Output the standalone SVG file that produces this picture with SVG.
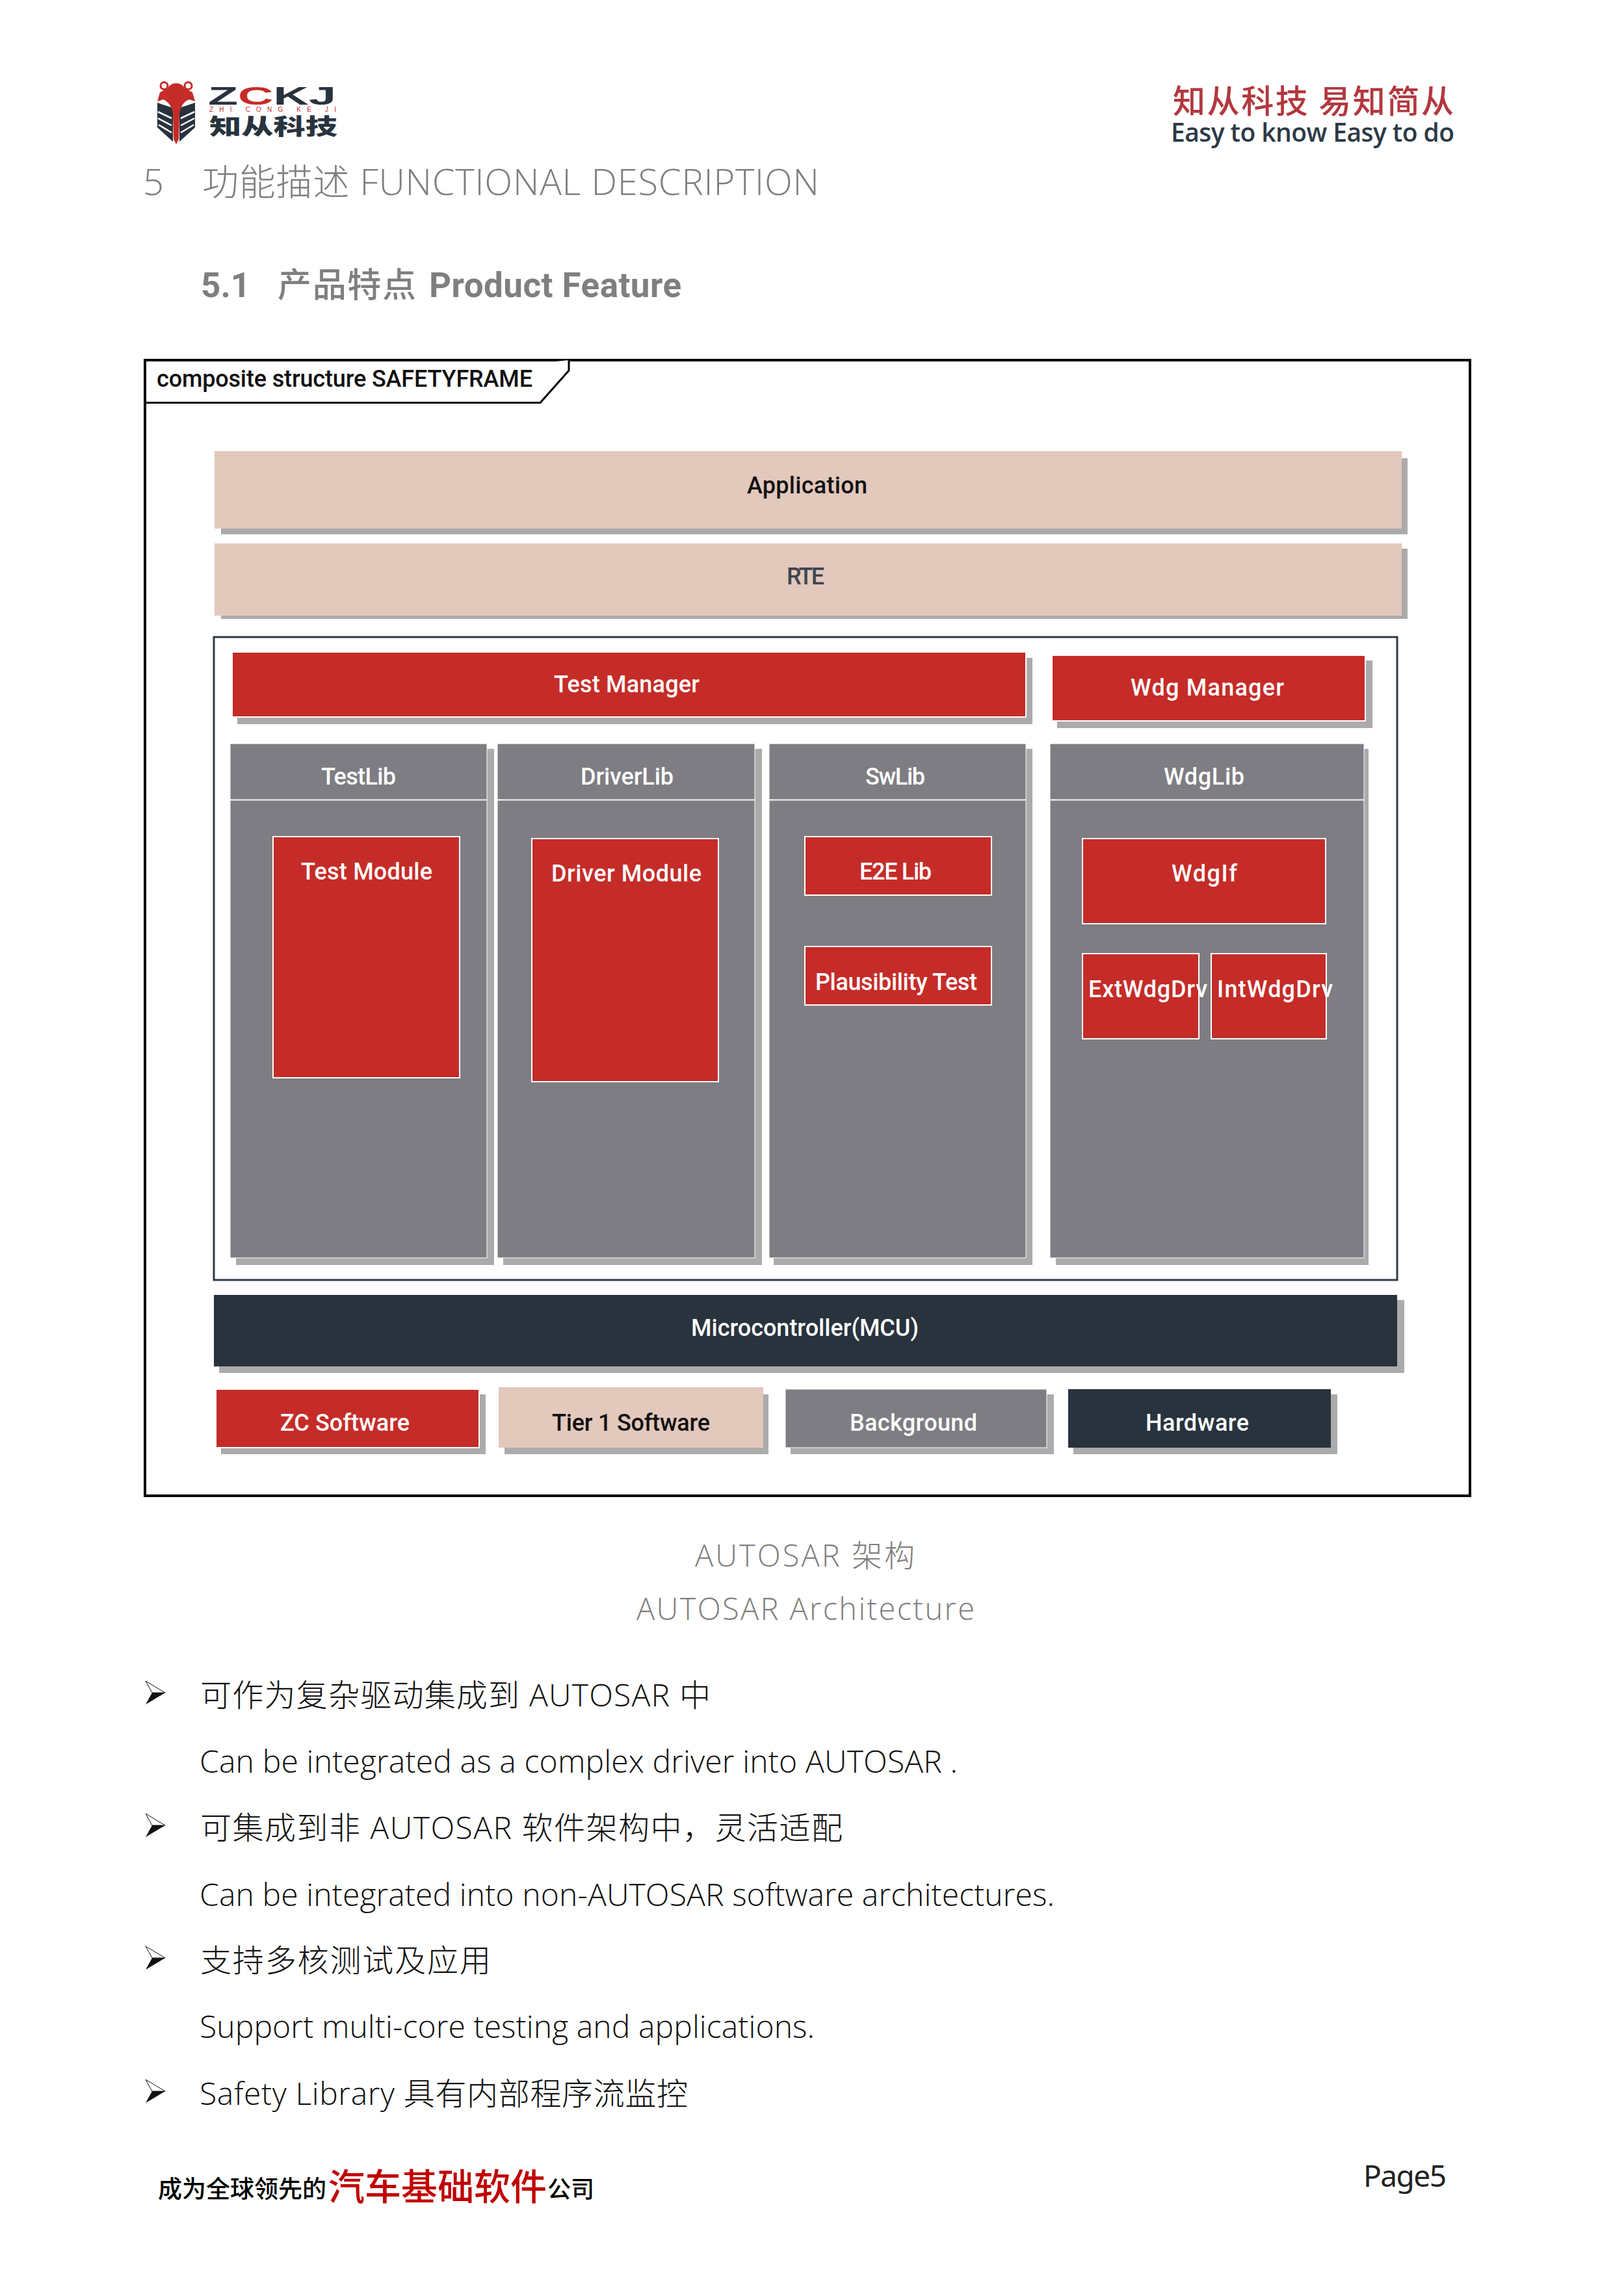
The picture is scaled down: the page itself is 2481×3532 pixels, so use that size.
<svg xmlns="http://www.w3.org/2000/svg" width="2481" height="3532" viewBox="0 0 2481 3532">
<style>
text{font-family:"Roboto","Noto Sans CJK SC",sans-serif;white-space:pre}
.sh{fill:#ababab}
.red{fill:#c52c28;stroke:#fff;stroke-width:2}
.pe{fill:#e3c8bc}
.gr{fill:#7e7d83;stroke:#fff;stroke-width:1}
.nv{fill:#28333e}
.lb{font-size:36px;font-weight:500;fill:#fff}
.lk{font-size:36px;font-weight:500;fill:#111}
.body{font-family:"Open Sans","Noto Sans CJK SC",sans-serif;font-weight:300;font-size:48px;fill:#111}
.cap{font-family:"Open Sans","Noto Sans CJK SC",sans-serif;font-weight:300;font-size:47px;fill:#7f7f7f}
.h1{font-family:"Open Sans","Noto Sans CJK SC",sans-serif;font-weight:300;font-size:56px;fill:#7f7f7f}
.h2{font-family:"Roboto","Noto Sans CJK SC",sans-serif;font-weight:700;font-size:53px;fill:#7f7f7f}
.wing{fill:#28333e}
.stripe{fill:none;stroke:#fff;stroke-width:2.5}
</style>
<defs>
<g id="bullet">
<polygon points="0,0 30,18 10,18" fill="#fff" stroke="#111" stroke-width="1"/>
<polygon points="0,36 30,18 10,18" fill="#111"/>
</g>
</defs>
<rect width="2481" height="3532" fill="#fff"/>

<g id="logo">
<path class="wing" d="M242,158 L266,166 V218 L242,196 Z M300,158 L276,166 V218 L300,196 Z"/>
<path class="stripe" d="M243,172 L264,182 M243,182 L264,193 M244,192 L264,204 M299,172 L278,182 M299,182 L278,193 M298,192 L278,204"/>
<path d="M271,128 Q262,128 258,136 L246,142 L242,156 L251,153 Q264,158 266,176 L267,214 L271,222 L275,214 L276,176 Q278,158 291,153 L300,156 L296,142 L284,136 Q280,128 271,128 Z" fill="#c52c28"/>
<circle cx="252.500" cy="132" r="5.500" fill="none" stroke="#c52c28" stroke-width="3"/>
<circle cx="289.500" cy="132" r="5.500" fill="none" stroke="#c52c28" stroke-width="3"/>
<text x="320" y="161" font-size="39" font-weight="700" fill="#28333e" textLength="197" lengthAdjust="spacingAndGlyphs" style="font-family:'Liberation Sans',sans-serif">Z<tspan fill="#c52c28">C</tspan>KJ</text>
<text x="322" y="172" font-size="10" fill="#c52c28" textLength="195" style="font-family:'Liberation Sans',sans-serif">ZHI CONG KE JI</text>
<text transform="translate(322,207) scale(1.45,1)" font-size="34" font-weight="900" fill="#28333e" style="font-family:'Noto Sans CJK SC',sans-serif">知从科技</text>
</g>

<g id="slogan">
<text x="1804" y="174" font-size="50" font-weight="500" fill="#b2383e" textLength="432" style="font-family:'Noto Sans CJK SC',sans-serif">知从科技 易知简从</text>
<text x="1801" y="218" font-size="39" font-weight="600" fill="#2c3a47" textLength="436" style="font-family:'Open Sans',sans-serif">Easy to know Easy to do</text>
</g>

<g id="headings">
<text class="h1" x="220" y="300">5</text>
<text class="h1" x="311" y="300" textLength="949">功能描述 FUNCTIONAL DESCRIPTION</text>
<text class="h2" x="309" y="457">5.1</text>
<text class="h2" x="427" y="457" style="font-weight:500;font-size:52px" textLength="213">产品特点</text>
<text class="h2" x="660" y="457" textLength="388">Product Feature</text>
</g>

<g id="frame">
<rect x="223" y="554" width="2038" height="1747" fill="#fff" stroke="#000" stroke-width="4"/>
<path d="M223,619.5 H831 L875,570 V554" fill="#fff" stroke="#000" stroke-width="3"/>
<text class="lk" x="241" y="595" textLength="578" fill="#000">composite structure SAFETYFRAME</text>
</g>

<g id="application">
<rect class="sh" x="340" y="705" width="1825" height="117"/>
<rect class="pe" x="330" y="694" width="1826" height="119"/>
<text class="lk" x="1149" y="759" textLength="185">Application</text>
</g>
<g id="rte">
<rect class="sh" x="340" y="844" width="1825" height="108"/>
<rect class="pe" x="330" y="836" width="1826" height="111"/>
<text class="lk" x="1210" y="899" textLength="58" style="fill:#3c4650">RTE</text>
</g>

<g id="container">
<rect x="329" y="980" width="1820" height="989" fill="#fff" stroke="#2e3a46" stroke-width="3"/>
</g>

<g id="test-manager">
<rect class="sh" x="365" y="1012" width="1223" height="102"/>
<rect class="red" x="357" y="1003" width="1221" height="100"/>
<text class="lb" x="852" y="1065" textLength="224">Test Manager</text>
</g>
<g id="wdg-manager">
<rect class="sh" x="1626" y="1016" width="485" height="104"/>
<rect class="red" x="1618" y="1008" width="482" height="101"/>
<text class="lb" x="1739" y="1070" textLength="236">Wdg Manager</text>
</g>

<g id="testlib">
<rect class="sh" x="363" y="1152" width="397" height="794"/>
<rect class="gr" x="354" y="1144" width="395" height="86"/>
<rect class="gr" x="354" y="1231" width="395" height="704"/>
<text class="lb" x="494" y="1207" textLength="115">TestLib</text>
</g>
<g id="driverlib">
<rect class="sh" x="774" y="1152" width="398" height="794"/>
<rect class="gr" x="765" y="1144" width="396" height="86"/>
<rect class="gr" x="765" y="1231" width="396" height="704"/>
<text class="lb" x="893" y="1207" textLength="143">DriverLib</text>
</g>
<g id="swlib">
<rect class="sh" x="1190" y="1152" width="398" height="794"/>
<rect class="gr" x="1183" y="1144" width="395" height="86"/>
<rect class="gr" x="1183" y="1231" width="395" height="704"/>
<text class="lb" x="1331" y="1207" textLength="92">SwLib</text>
</g>
<g id="wdglib">
<rect class="sh" x="1624" y="1152" width="481" height="794"/>
<rect class="gr" x="1615" y="1144" width="483" height="86"/>
<rect class="gr" x="1615" y="1231" width="483" height="704"/>
<text class="lb" x="1790" y="1207" textLength="124">WdgLib</text>
</g>

<g id="test-module">
<rect class="red" x="420" y="1287" width="287" height="371"/>
<text class="lb" x="463" y="1353" textLength="202">Test Module</text>
</g>
<g id="driver-module">
<rect class="red" x="818" y="1290" width="287" height="374"/>
<text class="lb" x="848" y="1356" textLength="231">Driver Module</text>
</g>
<g id="e2e-lib">
<rect class="red" x="1238" y="1287" width="287" height="90"/>
<text class="lb" x="1322" y="1353" textLength="111">E2E Lib</text>
</g>
<g id="plausibility-test">
<rect class="red" x="1238" y="1456" width="287" height="90"/>
<text class="lb" x="1254" y="1523" textLength="249">Plausibility Test</text>
</g>
<g id="wdgif">
<rect class="red" x="1665" y="1290" width="374" height="131"/>
<text class="lb" x="1802" y="1356" textLength="101">WdgIf</text>
</g>
<g id="extwdgdrv">
<rect class="red" x="1665" y="1467" width="179" height="131"/>
<text class="lb" x="1674" y="1534" textLength="183">ExtWdgDrv</text>
</g>
<g id="intwdgdrv">
<rect class="red" x="1863" y="1467" width="177" height="131"/>
<text class="lb" x="1872" y="1534" textLength="178">IntWdgDrv</text>
</g>

<g id="mcu">
<rect class="sh" x="337" y="2000" width="1823" height="112"/>
<rect class="nv" x="329" y="1992" width="1820" height="110"/>
<text class="lb" x="1063" y="2055" textLength="350">Microcontroller(MCU)</text>
</g>

<g id="legend-zc">
<rect class="sh" x="340" y="2145" width="407" height="92"/>
<rect class="red" x="332" y="2137" width="405" height="90"/>
<text class="lb" x="431" y="2201" textLength="199">ZC Software</text>
</g>
<g id="legend-tier1">
<rect class="sh" x="776" y="2145" width="406" height="92"/>
<rect class="pe" x="767" y="2134" width="407" height="93"/>
<text class="lk" x="849" y="2201" textLength="243">Tier 1 Software</text>
</g>
<g id="legend-background">
<rect class="sh" x="1216" y="2145" width="405" height="92"/>
<rect class="gr" x="1208" y="2137" width="402" height="90"/>
<text class="lb" x="1307" y="2201" textLength="196">Background</text>
</g>
<g id="legend-hardware">
<rect class="sh" x="1651" y="2145" width="406" height="92"/>
<rect class="nv" x="1643" y="2137" width="404" height="90"/>
<text class="lb" x="1762" y="2201" textLength="159">Hardware</text>
</g>

<g id="caption">
<text class="cap" x="1069" y="2410" textLength="338">AUTOSAR 架构</text>
<text class="cap" x="979" y="2492" textLength="520">AUTOSAR Architecture</text>
</g>

<g id="bullets">
<use href="#bullet" x="224" y="2586"/>
<use href="#bullet" x="224" y="2790"/>
<use href="#bullet" x="224" y="2994"/>
<use href="#bullet" x="224" y="3199"/>
<text class="body" x="308" y="2625" textLength="785">可作为复杂驱动集成到 AUTOSAR 中</text>
<text class="body" x="307" y="2727" textLength="1166">Can be integrated as a complex driver into AUTOSAR .</text>
<text class="body" x="308" y="2829" textLength="988">可集成到非 AUTOSAR 软件架构中，灵活适配</text>
<text class="body" x="307" y="2932" textLength="1315">Can be integrated into non-AUTOSAR software architectures.</text>
<text class="body" x="308" y="3033" textLength="447">支持多核测试及应用</text>
<text class="body" x="307" y="3135" textLength="946">Support multi-core testing and applications.</text>
<text class="body" x="307" y="3238" textLength="751">Safety Library 具有内部程序流监控</text>
</g>

<g id="footer">
<text x="243" y="3381" font-size="37" font-weight="500" fill="#000" style="font-family:'Noto Sans CJK SC',sans-serif">成为全球领先的</text>
<text x="505" y="3384" font-size="56" font-weight="500" fill="#c00000" style="font-family:'Noto Sans CJK SC',sans-serif">汽车基础软件</text>
<text x="842" y="3381" font-size="36" font-weight="500" fill="#000" style="font-family:'Noto Sans CJK SC',sans-serif">公司</text>
<text x="2097" y="3364" font-size="46" fill="#222" textLength="128" style="font-family:'Noto Sans',sans-serif">Page5</text>
</g>
</svg>
